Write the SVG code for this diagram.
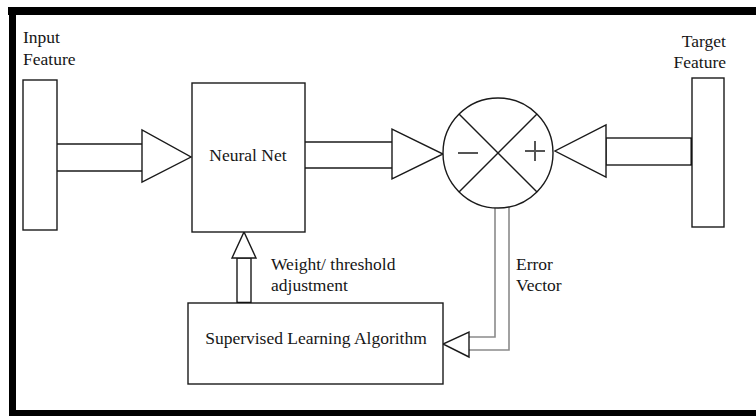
<svg xmlns="http://www.w3.org/2000/svg" width="756" height="416" viewBox="0 0 756 416">
<style>
.s{fill:#fff;stroke:#1a1a1a;stroke-width:1.4}
.l{fill:none;stroke:#1a1a1a;stroke-width:1.4}
.g{fill:none;stroke:#8a8a8a;stroke-width:1.6}
text{font-family:"Liberation Serif","Times New Roman",serif;font-size:17.5px;fill:#161616}
</style>
<rect width="756" height="416" fill="#fff"/>
<g id="frame" fill="#000">
<rect x="8" y="7" width="748" height="8"/>
<rect x="9" y="7" width="7" height="409"/>
<rect x="9" y="410" width="747" height="6"/>
</g>
<g id="connectors">
<line class="l" x1="57" y1="144" x2="142" y2="144"/>
<line class="l" x1="57" y1="171" x2="142" y2="171"/>
<polygon class="s" points="142,130 142,182 191,157"/>
<line class="l" x1="305" y1="142" x2="392" y2="142"/>
<line class="l" x1="305" y1="168" x2="392" y2="168"/>
<polygon class="s" points="392,129 392,179 443,154"/>
<rect class="s" x="606" y="138" width="86" height="27"/>
<line x1="692" y1="138" x2="692" y2="165" stroke="#000" stroke-width="3"/>
<polygon class="s" points="606,125 606,177 555,151"/>
<polyline class="g" points="495,208 495,337 469,337"/>
<polyline class="g" points="509,207 509,350 469,350"/>
<polygon class="s" points="469,332 469,357 443,344"/>
<rect class="s" x="237" y="258" width="14" height="45"/>
<line x1="237" y1="303" x2="251" y2="303" stroke="#000" stroke-width="2.5"/>
<polygon class="s" points="232,258 256,258 244,232"/>
</g>
<g id="input">
<rect class="s" x="23" y="80" width="34" height="150"/>
<text x="23" y="43">Input</text>
<text x="23" y="65">Feature</text>
</g>
<g id="target">
<rect class="s" x="692" y="78" width="32" height="149"/>
<text x="726" y="47" text-anchor="end">Target</text>
<text x="726" y="68" text-anchor="end">Feature</text>
</g>
<g id="neural-net">
<rect class="s" x="192" y="83" width="113" height="149"/>
<text x="248" y="161" text-anchor="middle">Neural Net</text>
</g>
<g id="summer">
<circle class="s" cx="498" cy="153" r="55"/>
<line class="l" x1="459" y1="114" x2="537" y2="192"/>
<line class="l" x1="537" y1="114" x2="459" y2="192"/>
<line x1="458" y1="153" x2="478" y2="153" stroke="#555" stroke-width="2"/>
<line x1="525" y1="151" x2="545" y2="151" stroke="#555" stroke-width="2"/>
<line x1="535" y1="141" x2="535" y2="161" stroke="#555" stroke-width="2"/>
</g>
<g id="supervised">
<rect class="s" x="188" y="303" width="255" height="81"/>
<text x="316" y="344" text-anchor="middle">Supervised Learning Algorithm</text>
</g>
<g id="labels">
<text x="271" y="270">Weight/ threshold</text>
<text x="271" y="291">adjustment</text>
<text x="516" y="270">Error</text>
<text x="516" y="291">Vector</text>
</g>
</svg>
